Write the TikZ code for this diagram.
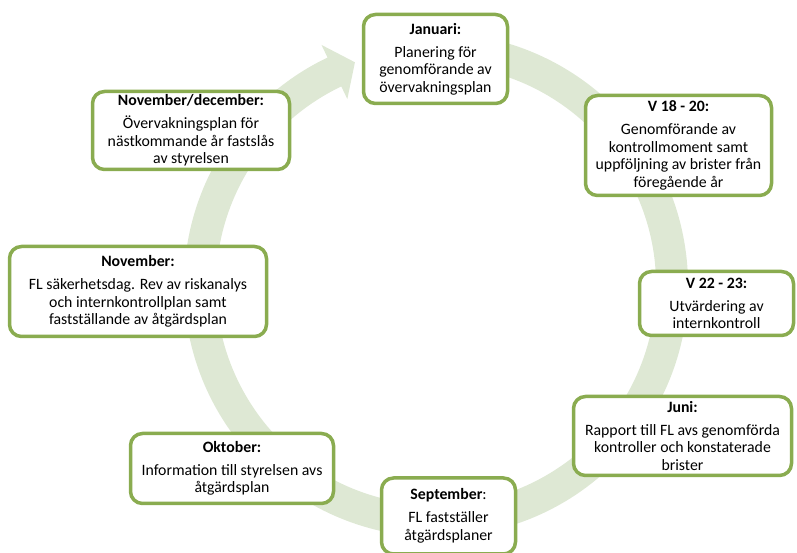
\documentclass[tikz,border=0pt]{standalone}
\usepackage{fontspec}
\setmainfont{Carlito}
\definecolor{boxgreen}{RGB}{138,172,80}
\definecolor{ringgreen}{RGB}{222,232,212}
\tikzset{
  stagebox/.style={draw=boxgreen, line width=3.5pt, rounded corners=12pt,
    fill=white, align=center, inner sep=0pt,
    font=\fontsize{15.8}{17.5}\selectfont},
}
\newcommand\hd[1]{\textbf{#1}\\[5.5pt]}
\begin{document}
\begin{tikzpicture}[x=1pt,y=1pt]
\useasboundingbox (0,0) rectangle (797,553);
\clip (0,0) rectangle (797,553);
% circular arrow
\begin{scope}[shift={(436,268)}]
\fill[ringgreen] (100:252) arc[start angle=100, end angle=-244.5, radius=252]
  -- (-244.5:266) -- (-250:237) -- (-244.5:206) -- (-244.5:220)
  arc[start angle=-244.5, end angle=100, radius=220] -- cycle;
\end{scope}
% stages
\node[stagebox, minimum width=144pt, minimum height=89pt] (jan) at (435.5,494)
  {\hd{Januari:}Planering för\\genomförande av\\övervakningsplan};
\node[stagebox, minimum width=186pt, minimum height=100pt] (v18) at (678.5,407.5)
  {\hd{V 18 - 20:}Genomförande av\\kontrollmoment samt\\uppföljning av brister från\\föregående år};
\node[stagebox, minimum width=154pt, minimum height=64pt] (v22) at (716.5,249.5)
  {\hd{V 22 - 23:}Utvärdering av\\internkontroll};
\node[stagebox, minimum width=218pt, minimum height=79pt] (jun) at (682.5,117)
  {\hd{Juni:}Rapport till FL avs genomförda\\kontroller och konstaterade\\brister};
\node[stagebox, minimum width=134pt, minimum height=76pt] (sep) at (448.5,37)
  {\textbf{September}:\\[5.5pt]FL fastställer\\åtgärdsplaner};
\node[stagebox, minimum width=203pt, minimum height=70pt] (okt) at (232,84.5)
  {\hd{Oktober:}Information till styrelsen avs\\åtgärdsplan};
\node[stagebox, minimum width=257pt, minimum height=90pt] (nov) at (138,261.5)
  {\hd{November:}FL säkerhetsdag. Rev av riskanalys\\och internkontrollplan samt\\fastställande av åtgärdsplan};
\node[stagebox, minimum width=197pt, minimum height=78pt] (novdec) at (191,422.5)
  {\hd{November/december:}Övervakningsplan för\\nästkommande år fastslås\\av styrelsen};
\end{tikzpicture}
\end{document}
